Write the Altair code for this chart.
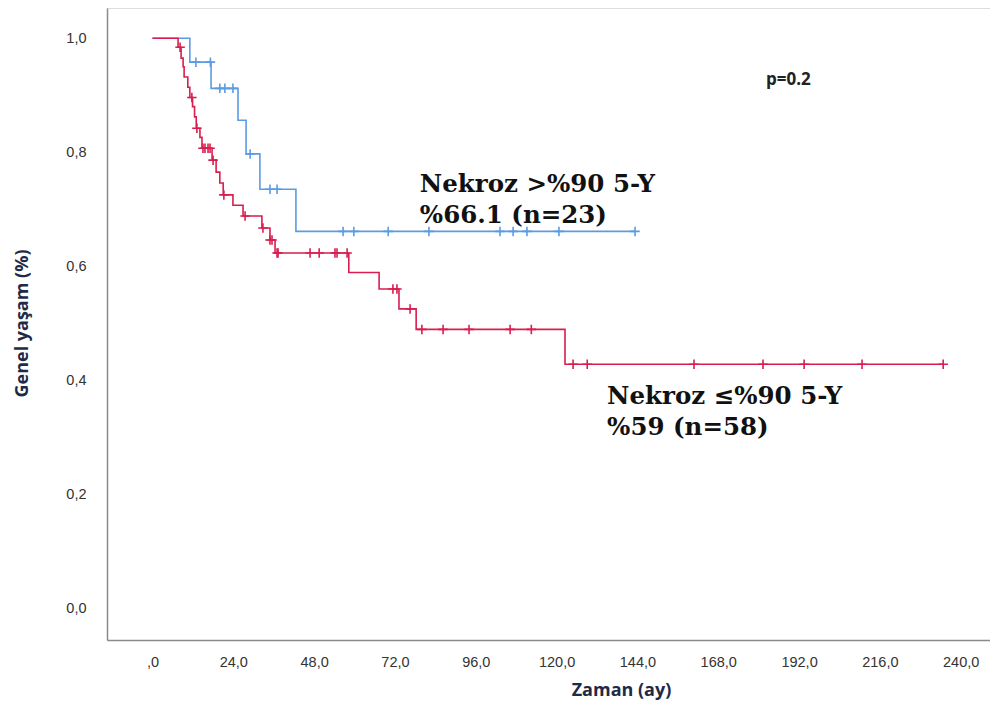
import altair as alt
import pandas as pd

# Kaplan-Meier step points (time in months, survival after event)
blue_t = [0, 11.1, 17.4, 25.4, 27.8, 31.9, 42.6, 143.3]
blue_s = [1.0, 0.958, 0.912, 0.856, 0.797, 0.735, 0.661, 0.661]

red_t = [0, 7.6, 8.5, 9.1, 9.4, 10.5, 11.1, 11.9, 12.5, 13.0, 14.1, 14.7, 17.7, 18.9, 20.0,
         21.0, 23.9, 26.9, 32.5, 34.9, 36.4, 58.3, 67.3, 73.2, 78.3, 122.5, 234.8]
red_s = [1.0, 0.984, 0.965, 0.950, 0.932, 0.914, 0.896, 0.880, 0.862, 0.842, 0.826, 0.807, 0.786, 0.765, 0.746,
         0.725, 0.707, 0.688, 0.667, 0.646, 0.623, 0.589, 0.560, 0.525, 0.489, 0.428, 0.428]

# censored observations
blue_cens_t = [12.9, 17.2, 20.0, 21.5, 23.9, 29.0, 34.9, 37.0, 56.6, 59.8, 70.0, 82.1, 103.2, 107.1, 111.2, 120.7, 143.3]
blue_cens_s = [0.958, 0.958, 0.912, 0.912, 0.912, 0.797, 0.735, 0.735, 0.661, 0.661, 0.661, 0.661, 0.661, 0.661, 0.661, 0.661, 0.661]

red_cens_t = [8.2, 11.7, 13.2, 15.0, 15.6, 16.5, 17.1, 18.0, 21.2, 27.5, 32.8, 34.9, 35.5, 37.0, 37.3, 46.8, 49.5,
              54.2, 54.8, 57.8, 71.4, 72.6, 76.5, 80.0, 86.3, 94.0, 106.2, 112.5, 124.9, 129.1, 160.8, 181.3,
              193.5, 210.7, 234.8]
red_cens_s = [0.984, 0.896, 0.842, 0.807, 0.807, 0.807, 0.807, 0.786, 0.725, 0.688, 0.667, 0.646, 0.646, 0.623,
              0.623, 0.623, 0.623, 0.623, 0.623, 0.623, 0.560, 0.560, 0.525, 0.489, 0.489, 0.489, 0.489, 0.489,
              0.428, 0.428, 0.428, 0.428, 0.428, 0.428, 0.428]

groups = ["Nekroz >%90", "Nekroz ≤%90"]
colors = ["#5b9be3", "#d81e4f"]

x_ticks = [0, 24, 48, 72, 96, 120, 144, 168, 192, 216, 240]
y_ticks = [0.0, 0.2, 0.4, 0.6, 0.8, 1.0]

annot_x = [79.4, 135.0]
annot_y = [0.730, 0.358]
annot_text = [["Nekroz >%90 5-Y", "%66.1 (n=23)"], ["Nekroz ≤%90 5-Y", "%59 (n=58)"]]
p_text = "p=0.2"
p_x = 182.2
p_y = 0.926

curve_df = pd.concat([
    pd.DataFrame({"t": blue_t, "s": blue_s, "g": groups[0]}),
    pd.DataFrame({"t": red_t, "s": red_s, "g": groups[1]}),
])
cens_df = pd.concat([
    pd.DataFrame({"t": blue_cens_t, "s": blue_cens_s, "g": groups[0]}),
    pd.DataFrame({"t": red_cens_t, "s": red_cens_s, "g": groups[1]}),
])
annot_df = pd.DataFrame({"x": annot_x, "y": annot_y, "label": annot_text})
p_df = pd.DataFrame({"x": [p_x], "y": [p_y], "label": [p_text]})

xscale = alt.Scale(domain=[-13.5, 248.7], nice=False, zero=False)
yscale = alt.Scale(domain=[-0.056, 1.053], nice=False, zero=False)
color = alt.Color("g:N", scale=alt.Scale(domain=groups, range=colors), legend=None)

x_enc = alt.X("t:Q", scale=xscale, axis=alt.Axis(
    values=x_ticks, title="Zaman (ay)", grid=False, ticks=False,
    labelExpr="datum.value == 0 ? ',0' : replace(format(datum.value, '.1f'), '.', ',')",
    labelPadding=15, labelFont="Liberation Sans", labelFontSize=14.5,
    labelColor="#333333", titleFont="Open Sans", titleFontSize=18, titleFontWeight="bold",
    titleColor="#1e2a48", titleX=514, titleY=50, titleBaseline="middle", titleAlign="center",
    domainColor="#8a8a8a", domainWidth=1.5))
y_enc = alt.Y("s:Q", scale=yscale, axis=alt.Axis(
    values=y_ticks, title="Genel yaşam (%)", grid=False, ticks=False,
    labelExpr="replace(format(datum.value, '.1f'), '.', ',')",
    labelPadding=21, labelFont="Liberation Sans", labelFontSize=14.5,
    labelColor="#333333", titleFont="Open Sans", titleFontSize=18, titleFontWeight="bold",
    titleColor="#1e2a48", titleX=-85, titleY=315, titleBaseline="middle", titleAlign="center",
    titleAngle=270,
    domainColor="#8a8a8a", domainWidth=1.5))

lines = alt.Chart(curve_df).mark_line(interpolate="step-after", strokeWidth=1.6).encode(
    x=x_enc, y=y_enc, color=color, detail="g:N")

cens = alt.Chart(cens_df).mark_point(
    shape="M-1,0L1,0M0,-1L0,1", size=90, strokeWidth=1.6, filled=False, opacity=1).encode(
    x="t:Q", y="s:Q", color=color)

annots = alt.Chart(annot_df).mark_text(
    align="left", baseline="alphabetic", font="DejaVu Serif", fontSize=24.5, fontWeight="bold",
    lineHeight=31, color="#111111").encode(x="x:Q", y="y:Q", text="label")

ptext = alt.Chart(p_df).mark_text(
    align="left", baseline="middle", font="Open Sans", fontSize=17, fontWeight="bold",
    color="#222222").encode(x="x:Q", y="y:Q", text="label:N")

chart = alt.layer(lines, cens, annots, ptext).properties(
    width=883, height=632,
    autosize=alt.AutoSizeParams(type="none"),
    padding={"left": 99, "top": 0, "right": 0, "bottom": 60},
).configure_view(stroke=None).configure(background="white")

chart.save("out.html", embed_options={"renderer": "svg", "actions": False})
